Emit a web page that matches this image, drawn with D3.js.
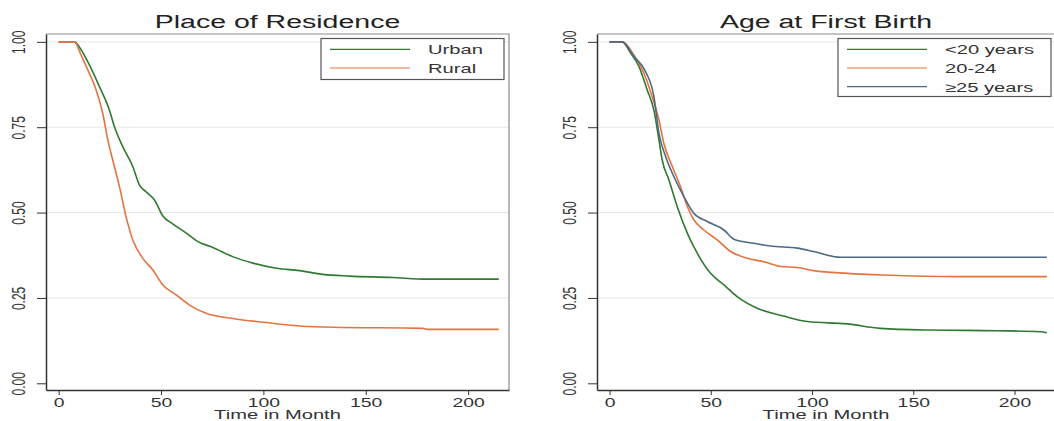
<!DOCTYPE html>
<html>
<head>
<meta charset="utf-8">
<script src="https://cdn.jsdelivr.net/npm/d3@7"></script>
<style>
  body { margin: 0; background: #fff; }
  svg text { font-family: "Liberation Sans", Arial, sans-serif; fill: #333; }
</style>
</head>
<body>
<svg id="chart" width="1054" height="421"></svg>
<script>
// data (time in months, survival)
const residenceTitle = "Place of Residence";
const ageTitle = "Age at First Birth";
const xTicks = [0, 50, 100, 150, 200];
const yTicks = [0, 0.25, 0.5, 0.75, 1];

const urbanT = [0, 7.7, 10, 14.2, 19.9, 24.8, 27.2, 31.3, 36.2, 39.4, 42.7, 46.8, 50.9, 55.7, 62.3, 68, 75.3, 85, 94.9, 106.3, 117.7, 129, 142, 163, 179.6, 215];
const urbanS = [1, 1, .986, .942, .869, .80, .752, .693, .635, .581, .561, .537, .49, .467, .44, .415, .398, .371, .352, .337, .33, .319, .314, .31, .305, .305];

const ruralT = [0, 7.7, 10.9, 14.2, 18.3, 21.5, 24, 26.4, 29.7, 32.9, 36.2, 41.1, 46, 50.9, 57.4, 63.9, 72, 85, 101.4, 117.7, 134, 178, 180, 215];
const ruralS = [1, 1, .962, .918, .859, .791, .713, .654, .576, .488, .42, .366, .332, .288, .259, .229, .205, .19, .178, .168, .164, .161, .158, .158];

const under20T = [0, 6.3, 10.4, 14.5, 18.6, 21.9, 24.4, 26, 29.3, 33.4, 38.4, 43.3, 49.9, 56.5, 63, 72.9, 86, 97.6, 117.4, 133.8, 158.5, 191.4, 212.8, 216];
const under20S = [1, 1, .967, .928, .859, .80, .713, .654, .596, .518, .44, .381, .322, .288, .254, .22, .197, .181, .174, .161, .156, .154, .151, .148];

const age2024T = [0, 6.3, 12, 17, 21, 24.4, 26.8, 31, 35, 38.4, 41.6, 46.6, 53.2, 59.8, 68, 76.2, 84.4, 92.7, 100.9, 117.4, 135.5, 173.3, 216];
const age2024S = [1, 1, .962, .908, .84, .771, .703, .635, .576, .518, .479, .449, .42, .386, .366, .356, .342, .339, .33, .322, .317, .3125, .3125];

const over25T = [0, 6.3, 12, 17.8, 21.9, 24.4, 27.7, 31.8, 36.7, 41.6, 48.2, 56.5, 61.4, 71.3, 79.5, 92.7, 100.9, 114, 216];
const over25S = [1, 1, .957, .913, .84, .732, .664, .605, .547, .498, .474, .449, .422, .41, .402, .396, .386, .369, .369];

const green = "#2f7a30", orange = "#e4733f", blue = "#4d6985";
const STRETCH = 1.55; // the source image is stretched sideways

const zip = (t, s) => t.map((d, i) => ({t: d, s: s[i]}));

const panels = [
  {
    title: residenceTitle, left: 46, right: 509,
    legend: {x: 321, w: 183, h: 41},
    series: [
      {name: "Urban", color: green, data: zip(urbanT, urbanS)},
      {name: "Rural", color: orange, data: zip(ruralT, ruralS)}
    ]
  },
  {
    title: ageTitle, left: 597, right: 1055,
    legend: {x: 838, w: 213, h: 58},
    series: [
      {name: "<20 years", color: green, data: zip(under20T, under20S)},
      {name: "20-24", color: orange, data: zip(age2024T, age2024S)},
      {name: "\u226525 years", color: blue, data: zip(over25T, over25S)}
    ]
  }
];

const svg = d3.select("#chart");
const plotTop = 34, plotBottom = 390;

function drawPanel(p) {
  const x = d3.scaleLinear().domain([-6.2, 220]).range([p.left, p.right]);
  const y = d3.scaleLinear().domain([-0.0196, 1.023]).range([plotBottom, plotTop]);
  const g = svg.append("g");

  // grid
  g.selectAll(".grid").data(yTicks.filter(d => d > 0)).enter()
    .append("line")
    .attr("x1", p.left).attr("x2", p.right)
    .attr("y1", d => y(d)).attr("y2", d => y(d))
    .attr("stroke", "#e6e6e6").attr("stroke-width", 1);

  // outer frame (top / right)
  g.append("path")
    .attr("d", `M${p.left},${plotTop}H${p.right}V${plotBottom}`)
    .attr("fill", "none").attr("stroke", "#8a8a8a").attr("stroke-width", 1.2);

  // curves
  const line = d3.line().x(d => x(d.t)).y(d => y(d.s)).curve(d3.curveMonotoneX);
  p.series.forEach(s => {
    g.append("path").datum(s.data)
      .attr("d", line)
      .attr("fill", "none")
      .attr("stroke", s.color)
      .attr("stroke-width", 1.6);
  });

  // axes
  const xAxis = g.append("g")
    .attr("transform", `translate(0,${plotBottom})`)
    .call(d3.axisBottom(x).tickValues(xTicks).tickSize(5).tickPadding(3).tickSizeOuter(0));
  xAxis.selectAll("text")
    .attr("font-size", 12.5)
    .attr("transform", `scale(${STRETCH},1)`);

  const yAxis = g.append("g")
    .attr("transform", `translate(${p.left},0)`)
    .call(d3.axisLeft(y).tickValues(yTicks).tickFormat(d3.format(".2f")).tickSize(9).tickSizeOuter(0));
  yAxis.selectAll("text")
    .attr("x", 0).attr("y", 0).attr("dy", 0)
    .attr("text-anchor", "middle")
    .attr("font-size", 12)
    .attr("transform", `translate(-21,0) scale(${STRETCH},1) rotate(-90)`);

  [xAxis, yAxis].forEach(a => {
    a.select(".domain").attr("stroke", "#333").attr("stroke-width", 1.5);
    a.selectAll(".tick line").attr("stroke", "#333");
    a.selectAll("text").style("fill", "#333");
  });

  const cx = (p.left + p.right) / 2;
  // title
  g.append("text")
    .attr("text-anchor", "middle")
    .attr("font-size", 19)
    .attr("transform", `translate(${cx},28) scale(1.5,1)`)
    .style("fill", "#222")
    .text(p.title);

  // x label
  g.append("text")
    .attr("text-anchor", "middle")
    .attr("font-size", 13)
    .attr("transform", `translate(${cx},419) scale(${STRETCH},1)`)
    .text("Time in Month");

  // legend
  const lg = g.append("g");
  lg.append("rect")
    .attr("x", p.legend.x).attr("y", 38.5)
    .attr("width", p.legend.w).attr("height", p.legend.h)
    .attr("fill", "#fff").attr("stroke", "#555").attr("stroke-width", 1.2);
  p.series.forEach((s, i) => {
    const ly = 49.3 + i * 18.7;
    lg.append("line")
      .attr("x1", p.legend.x + 9).attr("x2", p.legend.x + 89)
      .attr("y1", ly).attr("y2", ly)
      .attr("stroke", s.color).attr("stroke-width", 1.2);
    lg.append("text")
      .attr("font-size", 13)
      .attr("transform", `translate(${p.legend.x + 107},${ly + 5}) scale(${STRETCH},1)`)
      .text(s.name);
  });
}

panels.forEach(drawPanel);
</script>
</body>
</html>
